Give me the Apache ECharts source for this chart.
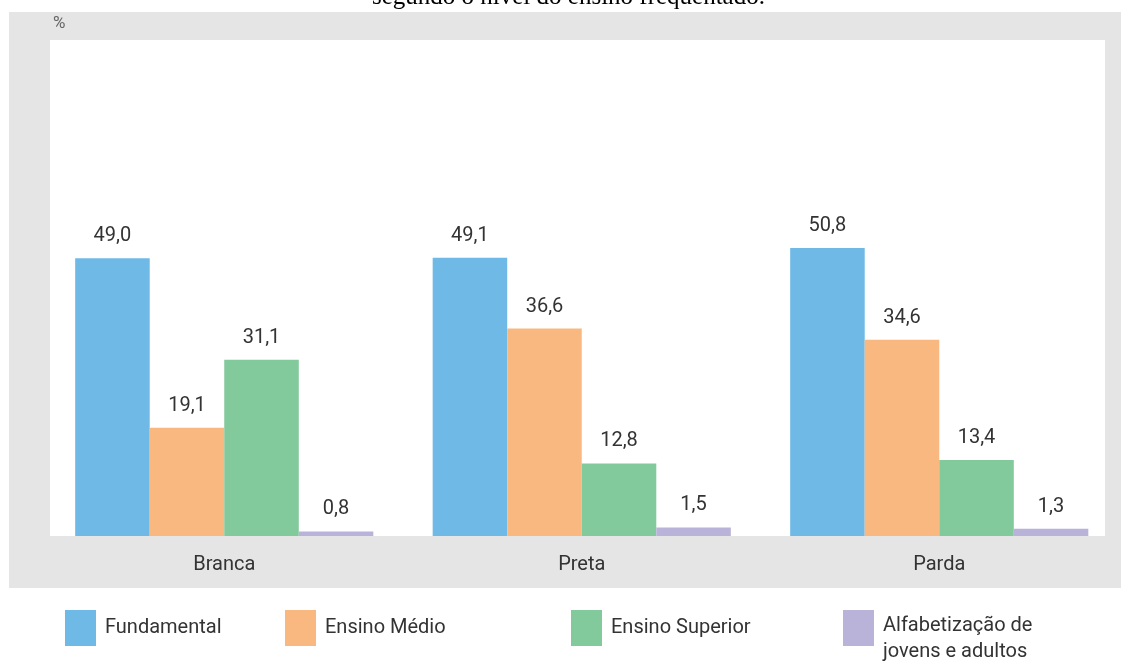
<!DOCTYPE html>
<html>
<head>
<meta charset="utf-8">
<script src="https://cdn.jsdelivr.net/npm/echarts@6/dist/echarts.min.js"></script>
<style>
html,body{margin:0;padding:0;background:#fff;}
#c{width:1121px;height:661px;}
</style>
</head>
<body>
<div id="c"></div>
<script>
const categories = ['Branca', 'Preta', 'Parda'];
const seriesNames = ['Fundamental', 'Ensino Médio', 'Ensino Superior', 'Alfabetização de jovens e adultos'];
const fundamental = [49.0, 49.1, 50.8];
const ensinoMedio = [19.1, 36.6, 34.6];
const ensinoSuperior = [31.1, 12.8, 13.4];
const alfabetizacao = [0.8, 1.5, 1.3];
const titleText = 'segundo o nível do ensino frequentado.';
const unitLabel = '%';

const colors = ['#6fb9e7', '#f9b880', '#82c99b', '#b9b3d9'];
const values = [fundamental, ensinoMedio, ensinoSuperior, alfabetizacao];
const FONT = 'Roboto';

const chart = echarts.init(document.getElementById('c'), null, {renderer: 'canvas'});

const fmt = v => v.toFixed(1).replace('.', ',');

const legendLefts = [65, 285, 571, 843];
const legends = seriesNames.map((n, i) => {
  const multi = i === 3;
  return {
    data: [n],
    left: legendLefts[i],
    top: multi ? 597 : 610,
    padding: 0,
    icon: 'rect',
    itemWidth: 31,
    itemHeight: 36,
    selectedMode: false,
    formatter: multi ? () => '{s| }\n{a|Alfabetização de}\n{a|jovens e adultos}' : undefined,
    textStyle: multi ? {
      fontFamily: FONT,
      fontSize: 20,
      color: '#333',
      padding: [0, 0, 0, 4],
      rich: {
        s: {fontSize: 10, lineHeight: 22, fontFamily: FONT},
        a: {fontFamily: FONT, fontSize: 20, lineHeight: 26, color: '#333'}
      }
    } : {
      fontFamily: FONT,
      fontSize: 20,
      color: '#333',
      padding: [0, 0, 0, 4]
    }
  };
});

const option = {
  animation: false,
  title: [
    {
      text: titleText,
      left: 372,
      top: -15,
      padding: 0,
      textStyle: {fontFamily: 'Liberation Serif', fontSize: 25, fontWeight: 'normal', color: '#000'}
    },
    {
      text: unitLabel,
      left: 53,
      top: 15,
      padding: 0,
      textStyle: {fontFamily: FONT, fontSize: 17, fontWeight: 'normal', color: '#666'}
    }
  ],
  graphic: [
    {type: 'rect', z: -10, silent: true, shape: {x: 9, y: 12, width: 1112, height: 576}, style: {fill: '#e5e5e5'}},
    {type: 'rect', z: -9, silent: true, shape: {x: 50, y: 40, width: 1055, height: 496}, style: {fill: '#ffffff'}}
  ],
  legend: legends,
  grid: {left: 45.5, right: 3, top: 40, bottom: 125, containLabel: false},
  xAxis: {
    type: 'category',
    data: categories,
    axisLine: {show: false},
    axisTick: {show: false},
    axisLabel: {fontFamily: FONT, fontSize: 20, color: '#333', margin: 19}
  },
  yAxis: {
    type: 'value',
    min: 0,
    max: 87.5,
    show: false,
    splitLine: {show: false}
  },
  series: seriesNames.map((n, i) => ({
    name: n,
    type: 'bar',
    data: values[i],
    barGap: '0%',
    barCategoryGap: '16.6%',
    itemStyle: {color: colors[i]},
    label: {
      show: true,
      position: 'top',
      distance: 12,
      fontFamily: FONT,
      fontSize: 20,
      color: '#333',
      formatter: p => fmt(p.value)
    }
  }))
};
chart.setOption(option);
</script>
</body>
</html>
